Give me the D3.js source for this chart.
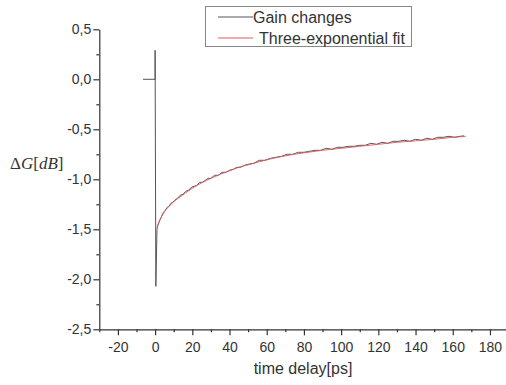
<!DOCTYPE html>
<html>
<head>
<meta charset="utf-8">
<script src="https://cdn.jsdelivr.net/npm/d3@7"></script>
<style>
  body { margin: 0; background: #fff; }
  svg { display: block; font-family: "Liberation Sans", Arial, sans-serif; }
</style>
</head>
<body>
<div id="chart"></div>
<script>
// measured gain change [time ps, dG dB]
var gainData = [
  [-6.5, 0], [0, 0], [0, 0.29], [0.4, -2.07], [1, -1.50], [1.5, -1.46], [2.5, -1.41],
  [3.5, -1.37], [4.5, -1.33], [5.5, -1.31], [6.5, -1.28], [7.5, -1.27], [8.5, -1.24],
  [9.5, -1.23], [10.5, -1.21], [12, -1.19], [13.5, -1.16], [15, -1.15], [16.5, -1.12],
  [18, -1.11], [19.5, -1.08], [21, -1.07], [22.5, -1.06], [24, -1.03], [25.5, -1.03],
  [27, -1.01], [28.5, -0.99], [30, -0.99], [32, -0.96], [34, -0.96], [36, -0.93],
  [38, -0.93], [40, -0.91], [42, -0.90], [44, -0.88], [46, -0.88], [48, -0.86],
  [50, -0.85], [53, -0.84], [56, -0.81], [59, -0.81], [62, -0.79], [65, -0.78],
  [68, -0.77], [71, -0.75], [74, -0.75], [77, -0.73], [80, -0.73], [83, -0.72],
  [86, -0.71], [89, -0.71], [92, -0.69], [95, -0.70], [98, -0.68], [101, -0.68],
  [104, -0.67], [107, -0.67], [110, -0.66], [113, -0.66], [116, -0.64], [119, -0.65],
  [122, -0.63], [125, -0.64], [128, -0.62], [131, -0.62], [134, -0.61], [137, -0.62],
  [140, -0.60], [143, -0.61], [146, -0.59], [149, -0.60], [152, -0.58], [155, -0.58],
  [158, -0.57], [161, -0.58], [164, -0.57], [166, -0.565]
];

// three-exponential fit
var fitData = [
  [1, -1.48], [2, -1.43], [3, -1.39], [4, -1.355], [6, -1.30], [8, -1.26], [10, -1.225],
  [12, -1.195], [15, -1.155], [20, -1.09], [25, -1.035], [30, -0.99], [35, -0.95],
  [40, -0.915], [45, -0.88], [50, -0.855], [55, -0.83], [60, -0.805], [70, -0.765],
  [80, -0.735], [90, -0.71], [100, -0.69], [110, -0.67], [120, -0.65], [130, -0.63],
  [140, -0.615], [150, -0.60], [160, -0.58], [167, -0.57]
];

var xTicks = [-20, 0, 20, 40, 60, 80, 100, 120, 140, 160, 180];
var xMinorTicks = [-30, -10, 10, 30, 50, 70, 90, 110, 130, 150, 170];
var yTicks = [-2.5, -2.0, -1.5, -1.0, -0.5, 0.0, 0.5];
var yTickLabels = ["-2,5", "-2,0", "-1,5", "-1,0", "-0,5", "0,0", "0,5"];
var yMinorTicks = [-2.25, -1.75, -1.25, -0.75, -0.25, 0.25];
var seriesNames = ["Gain changes", "Three-exponential fit"];
var seriesColors = ["#555555", "#e05a5a"];

var width = 506, height = 385;
var plot = {left: 99.3, right: 506.7, top: 29.3, bottom: 329.3};

var svg = d3.select("#chart")
  .append("svg")
    .attr("width", width)
    .attr("height", height);

var x = d3.scaleLinear()
  .domain([-30, 189])
  .range([plot.left, plot.right]);

var y = d3.scaleLinear()
  .domain([-2.5, 0.5])
  .range([plot.bottom, plot.top]);

var axisColor = "#333";

// X axis
var gx = svg.append("g")
  .attr("transform", "translate(0," + plot.bottom + ")")
  .call(d3.axisBottom(x).tickValues(xTicks).tickSize(6).tickSizeOuter(0).tickPadding(7)
    .tickFormat(function(d) { return String(d); }));
gx.append("g")
  .call(d3.axisBottom(x).tickValues(xMinorTicks).tickSize(3).tickSizeOuter(0).tickFormat(""))
  .select(".domain").remove();

// Y axis
var gy = svg.append("g")
  .attr("transform", "translate(" + plot.left + ",0)")
  .call(d3.axisLeft(y).tickValues(yTicks).tickSize(6).tickSizeOuter(0).tickPadding(2)
    .tickFormat(function(d, i) { return yTickLabels[i]; }));
gy.append("g")
  .call(d3.axisLeft(y).tickValues(yMinorTicks).tickSize(3).tickSizeOuter(0).tickFormat(""))
  .select(".domain").remove();

svg.selectAll(".domain, .tick line")
  .attr("stroke", axisColor)
  .attr("stroke-width", 1.2);
svg.selectAll(".tick text")
  .attr("fill", "#333")
  .attr("font-size", "14px")
  .attr("font-family", "'Liberation Sans', Arial, sans-serif");

// lines
var line = d3.line()
  .x(function(d) { return x(d[0]); })
  .y(function(d) { return y(d[1]); });

svg.append("path")
  .datum(gainData)
  .attr("fill", "none")
  .attr("stroke", seriesColors[0])
  .attr("stroke-width", 1)
  .attr("d", line);

svg.append("path")
  .datum(fitData)
  .attr("fill", "none")
  .attr("stroke", seriesColors[1])
  .attr("stroke-width", 1)
  .attr("stroke-opacity", 0.9)
  .attr("d", line.curve(d3.curveMonotoneX));

// legend
var legend = svg.append("g");
legend.append("rect")
  .attr("x", 205.5)
  .attr("y", 6.5)
  .attr("width", 206)
  .attr("height", 40)
  .attr("fill", "#fff")
  .attr("stroke", "#888")
  .attr("stroke-width", 1);

seriesNames.forEach(function(name, i) {
  var ly = 17 + i * 21;
  legend.append("line")
    .attr("x1", 218).attr("x2", 253)
    .attr("y1", ly).attr("y2", ly)
    .attr("stroke", seriesColors[i])
    .attr("stroke-width", 1);
  legend.append("text")
    .attr("x", i === 0 ? 253 : 259)
    .attr("y", ly + 6)
    .attr("font-size", "16px")
    .attr("fill", "#333")
    .text(name);
});

// axis titles
svg.append("text")
  .attr("x", 303)
  .attr("y", 374)
  .attr("text-anchor", "middle")
  .attr("font-size", "16px")
  .attr("fill", "#333")
  .text("time delay[ps]");

var yl = svg.append("text")
  .attr("x", 10)
  .attr("y", 169)
  .attr("font-size", "17px")
  .attr("font-family", "'Liberation Serif', 'Times New Roman', serif")
  .attr("fill", "#333");
yl.append("tspan").text("\u0394");
yl.append("tspan").attr("font-style", "italic").text("G");
yl.append("tspan").text("[");
yl.append("tspan").attr("font-style", "italic").text("dB");
yl.append("tspan").text("]");
</script>
</body>
</html>
